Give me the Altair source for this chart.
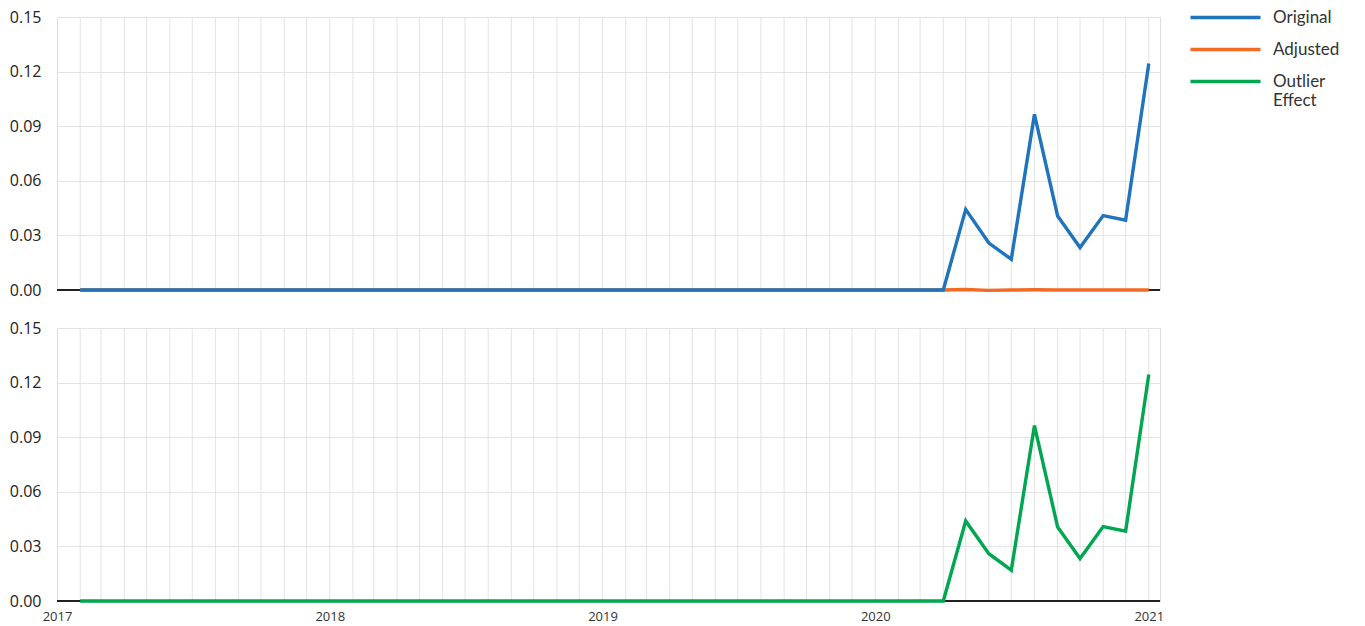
import altair as alt
import pandas as pd

# ---- data ----
dates = pd.date_range("2017-02-01", "2021-01-01", freq="MS")  # 48 monthly points

original = [
    0.0, 0.0, 0.0, 0.0, 0.0, 0.0, 0.0, 0.0, 0.0, 0.0, 0.0, 0.0,
    0.0, 0.0, 0.0, 0.0, 0.0, 0.0, 0.0, 0.0, 0.0, 0.0, 0.0, 0.0,
    0.0, 0.0, 0.0, 0.0, 0.0, 0.0, 0.0, 0.0, 0.0, 0.0, 0.0, 0.0,
    0.0, 0.0, 0.0, 0.0443, 0.0258, 0.0169, 0.0965, 0.0407, 0.0233, 0.0409,
    0.0384, 0.1244,
]
adjusted = [
    0.0, 0.0, 0.0, 0.0, 0.0, 0.0, 0.0, 0.0, 0.0, 0.0, 0.0, 0.0,
    0.0, 0.0, 0.0, 0.0, 0.0, 0.0, 0.0, 0.0, 0.0, 0.0, 0.0, 0.0,
    0.0, 0.0, 0.0, 0.0, 0.0, 0.0, 0.0, 0.0, 0.0, 0.0, 0.0, 0.0,
    0.0, 0.0, 0.0, 0.0003, -0.0002, 0.0, 0.0001, 0.0, 0.0, 0.0,
    0.0, 0.0,
]
outlier_effect = [
    0.0, 0.0, 0.0, 0.0, 0.0, 0.0, 0.0, 0.0, 0.0, 0.0, 0.0, 0.0,
    0.0, 0.0, 0.0, 0.0, 0.0, 0.0, 0.0, 0.0, 0.0, 0.0, 0.0, 0.0,
    0.0, 0.0, 0.0, 0.0, 0.0, 0.0, 0.0, 0.0, 0.0, 0.0, 0.0, 0.0,
    0.0, 0.0, 0.0, 0.0440, 0.0260, 0.0169, 0.0964, 0.0407, 0.0233, 0.0409,
    0.0384, 0.1244,
]
series_names = ["Original", "Adjusted", "Outlier Effect"]
series_colors = ["#1f74bb", "#f26a24", "#00a650"]
year_ticks = [2017, 2018, 2019, 2020, 2021]
y_ticks = [0.0, 0.03, 0.06, 0.09, 0.12, 0.15]

# ---- frames ----
df_dates = pd.DataFrame({"date": dates})
df_orig = pd.DataFrame({"date": dates, "value": original, "series": "Original"})
df_adj = pd.DataFrame({"date": dates, "value": adjusted, "series": "Adjusted"})
df_out = pd.DataFrame({"date": dates, "value": outlier_effect, "series": "Outlier Effect"})

W, H = 1103, 273
GRID = "#e3e3e3"

x_scale = alt.Scale(domain=[alt.DateTime(year=2017, month=1, date=1),
                            alt.DateTime(year=2021, month=1, date=16)])
y_scale = alt.Scale(domain=[0, 0.15], nice=False)
y_axis = alt.Axis(values=y_ticks, format=".2f", title=None, domain=False, ticks=False,
                  labelPadding=16, labelFontSize=16, labelFont="Open Sans",
                  labelColor="#222", gridColor=GRID, gridWidth=1)
x_axis_bottom = alt.Axis(values=[alt.DateTime(year=y, month=1, date=1) for y in year_ticks],
                         format="%Y", title=None, grid=False, domain=False, ticks=False,
                         labelPadding=9, labelFontSize=13, labelFont="Open Sans",
                         labelColor="#333", labelFlush=False)

color_scale = alt.Scale(domain=series_names, range=series_colors)
legend = alt.Legend(title=None, orient="none", legendX=1160, legendY=-8,
                    symbolType="M-35,0L35,0", symbolSize=4, symbolStrokeWidth=3.5,
                    labelFont="Lato", labelFontSize=17, labelColor="#333",
                    labelOffset=39, rowPadding=14, labelLimit=200,
                    labelExpr="datum.label == 'Outlier Effect' ? ['Outlier', 'Effect'] : datum.label")


def panel(line_frames, show_x):
    xa = x_axis_bottom if show_x else None
    vgrid = alt.Chart(df_dates).mark_rule(color=GRID, strokeWidth=1).encode(
        x=alt.X("date:T", scale=x_scale, axis=xa)
    )
    hgrid = alt.Chart(df_dates).mark_rule(opacity=0).encode(
        y=alt.Y("v:Q", scale=y_scale, axis=y_axis)
    ).transform_calculate(v="0")
    zero = alt.Chart(df_dates).mark_rule(color="#222", strokeWidth=1.6).encode(
        y=alt.datum(0)
    )
    lines = [
        alt.Chart(f).mark_line(strokeWidth=3.4).encode(
            x=alt.X("date:T", scale=x_scale, axis=xa),
            y=alt.Y("value:Q", scale=y_scale, axis=y_axis),
            color=alt.Color("series:N", scale=color_scale, legend=legend),
        )
        for f in line_frames
    ]
    return alt.layer(vgrid, hgrid, zero, *lines).properties(width=W, height=H)


top = panel([df_adj, df_orig], show_x=False)
bottom = panel([df_out], show_x=True)

chart = alt.vconcat(top, bottom, spacing=20).properties(
    padding={"left": 0, "top": 0, "right": 5, "bottom": 0}
).configure_view(strokeWidth=0).configure(background="white")

chart.save("out.html", embed_options={"renderer": "svg", "actions": False})
